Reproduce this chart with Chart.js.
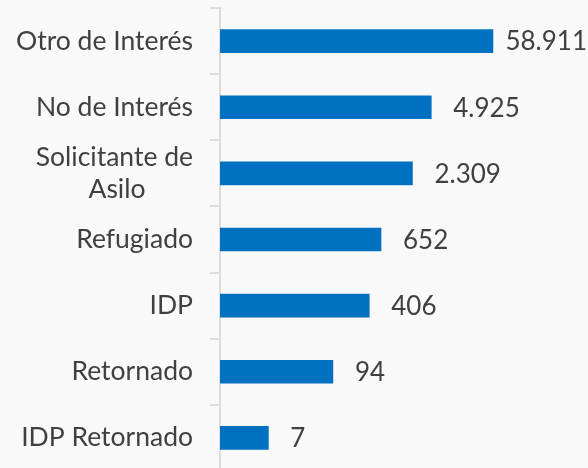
<!DOCTYPE html>
<html>
<head>
<meta charset="utf-8">
<script src="https://cdn.jsdelivr.net/npm/chart.js@4/dist/chart.umd.min.js"></script>
<style>
  html, body { margin: 0; padding: 0; background: #f9f9f9; overflow: hidden; }
  #wrap { width: 588px; height: 471px; }
</style>
</head>
<body>
<div id="wrap"><canvas id="poblacionGraph"></canvas></div>
<script>
const categories = ['Otro de Interés', 'No de Interés', ['Solicitante de', 'Asilo\u00a0\u00a0\u00a0\u00a0\u00a0\u00a0\u00a0'], 'Refugiado', 'IDP', 'Retornado', 'IDP Retornado'];
const values = [58911, 4925, 2309, 652, 406, 94, 7];
const valueLabels = ['58.911', '4.925', '2.309', '652', '406', '94', '7'];

const textColor = '#404040';

// labels at the end of each bar, kept inside the canvas
const endLabels = {
    id: 'endLabels',
    afterDatasetsDraw(chart) {
        const ctx = chart.ctx;
        const meta = chart.getDatasetMeta(0);
        ctx.save();
        ctx.font = '26px Lato';
        ctx.fillStyle = textColor;
        ctx.textBaseline = 'middle';
        ctx.textAlign = 'left';
        meta.data.forEach(function (bar, i) {
            const text = valueLabels[i];
            const w = ctx.measureText(text).width;
            let x = bar.x + 22;
            if (x + w > chart.width - 1) x = chart.width - 1 - w;
            ctx.fillText(text, x, bar.y + 1);
        });
        ctx.restore();
    }
};

new Chart(document.getElementById('poblacionGraph'), {
    type: 'bar',
    plugins: [endLabels],
    data: {
        labels: categories,
        datasets: [
            {
                data: values,
                backgroundColor: '#0070C0',
                barThickness: 23
            }
        ]
    },
    options: {
        indexAxis: 'y',
        responsive: true,
        maintainAspectRatio: false,
        animation: false,
        layout: { padding: { top: 8, left: 15, right: 0, bottom: 0 } },
        plugins: {
            legend: { display: false },
            tooltip: { enabled: false }
        },
        scales: {
            x: {
                type: 'logarithmic',
                display: false,
                min: 1,
                max: 2700000
            },
            y: {
                offset: true,
                afterFit: function (scale) {
                    scale.width = 205;
                    scale.paddingTop = 0;
                    scale.paddingBottom = 0;
                },
                border: { color: '#dcdcdc', width: 2 },
                grid: {
                    offset: true,
                    drawOnChartArea: false,
                    tickLength: 10,
                    color: '#dcdcdc',
                    lineWidth: 2
                },
                ticks: {
                    autoSkip: false,
                    color: textColor,
                    padding: 17,
                    font: { family: 'Lato', size: 26.5, lineHeight: 1.2 }
                }
            }
        }
    }
});
</script>
</body>
</html>
